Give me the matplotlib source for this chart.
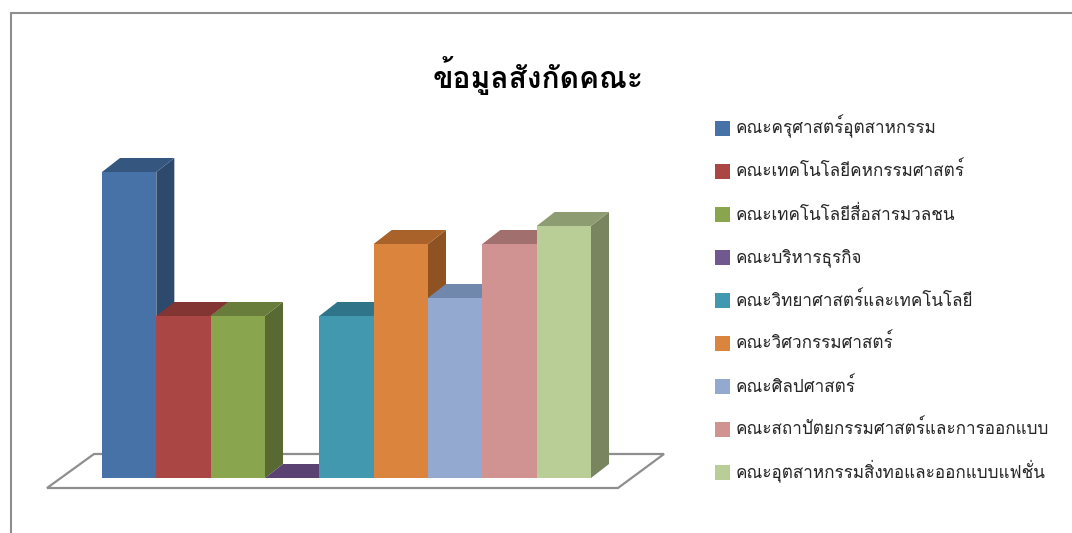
import matplotlib
matplotlib.use("Agg")
import logging
logging.getLogger("matplotlib.font_manager").setLevel(logging.ERROR)
import matplotlib.pyplot as plt
from matplotlib.patches import Polygon, Rectangle
from matplotlib.lines import Line2D

THAI_FONTS = ["Loma", "Sarabun", "IBM Plex Sans Thai Looped", "Noto Sans", "DejaVu Sans"]
plt.rcParams["font.family"] = THAI_FONTS

title = "ข้อมูลสังกัดคณะ"
faculties = [
    "คณะครุศาสตร์อุตสาหกรรม",
    "คณะเทคโนโลยีคหกรรมศาสตร์",
    "คณะเทคโนโลยีสื่อสารมวลชน",
    "คณะบริหารธุรกิจ",
    "คณะวิทยาศาสตร์และเทคโนโลยี",
    "คณะวิศวกรรมศาสตร์",
    "คณะศิลปศาสตร์",
    "คณะสถาปัตยกรรมศาสตร์และการออกแบบ",
    "คณะอุตสาหกรรมสิ่งทอและออกแบบแฟชั่น",
]
counts = [17, 9, 9, 0, 9, 13, 10, 13, 14]
front_colors = ["#4672A8", "#AA4643", "#89A54E", "#71588F", "#4198AF",
                "#DB843D", "#93A9CF", "#D19392", "#B9CD96"]
top_colors = ["#35577F", "#823533", "#687D3B", "#5A4272", "#2F7488",
              "#A9622A", "#7088AC", "#A06F6E", "#8E9D71"]
side_colors = ["#2D4A6C", "#6E2D2B", "#586A32", "#4B3760", "#286274",
               "#8F5323", "#5F7392", "#885E5D", "#78855F"]

W, H = 1072, 533
fig = plt.figure(figsize=(W / 100, H / 100), dpi=100, facecolor="white")

# Full-figure layer in pixel coordinates for the frame, floor, title and legend
bg = fig.add_axes([0, 0, 1, 1], zorder=0)
bg.set_xlim(0, W)
bg.set_ylim(H, 0)
bg.axis("off")

grey = "#8E8E8E"
bg.add_line(Line2D([11, 11, W], [H, 13, 13], color=grey, lw=1.5, solid_joinstyle="miter"))
bg.add_patch(Polygon([(47, 488), (618, 488), (664, 454), (94, 454)], closed=True,
                     facecolor="white", edgecolor=grey, lw=1.6, joinstyle="miter"))
bg.text(538, 75.5, title, ha="center", va="center", fontsize=21.6, fontweight="bold", color="black")

legend_x, legend_y, legend_pitch, swatch = 715, 128, 43, 15
for i, (name, color) in enumerate(zip(faculties, front_colors)):
    yc = legend_y + i * legend_pitch
    bg.add_patch(Rectangle((legend_x, yc - swatch / 2), swatch, swatch, facecolor=color, edgecolor="none"))
    bg.text(legend_x + 21, yc + 5.5, name, ha="left", va="baseline", fontsize=12.3, color="#262626")

# Chart layer: one x unit per bar, y in counts
ax = fig.add_axes([102 / W, (H - 478) / H, 489 / W, 306 / H], zorder=1)
ax.patch.set_alpha(0)
ax.set_xlim(0, len(counts))
ax.set_ylim(0, max(counts))
ax.axis("off")

depth_x = 18 / (489 / len(counts))
depth_y = 14 / (306 / max(counts))

for i, v in enumerate(counts):
    z = 2 + i
    ax.bar(i, v, width=1, align="edge", color=front_colors[i], zorder=z + 0.5, clip_on=False)
    ax.add_patch(Polygon([(i + 1, 0), (i + 1 + depth_x, depth_y), (i + 1 + depth_x, v + depth_y), (i + 1, v)],
                         closed=True, facecolor=side_colors[i], edgecolor="none", zorder=z, clip_on=False))
    ax.add_patch(Polygon([(i, v), (i + depth_x, v + depth_y), (i + 1 + depth_x, v + depth_y), (i + 1, v)],
                         closed=True, facecolor=top_colors[i], edgecolor="none", zorder=z, clip_on=False))

fig.savefig("out.png", dpi=100, facecolor="white")
